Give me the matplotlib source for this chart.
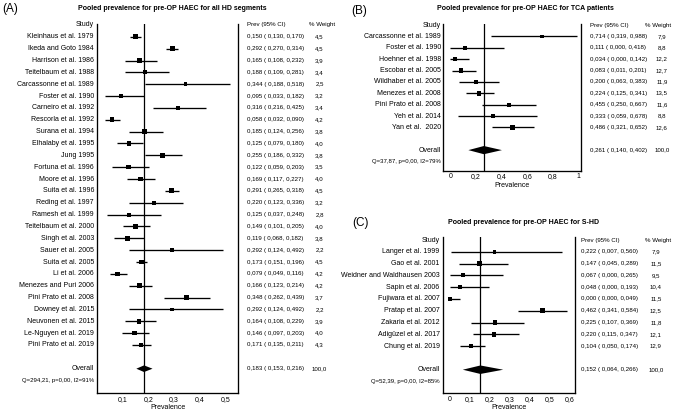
import matplotlib

matplotlib.use("Agg")
import matplotlib.pyplot as plt  # noqa: E402
from matplotlib.patches import Polygon  # noqa: E402
from matplotlib.transforms import blended_transform_factory  # noqa: E402

plt.rcParams["font.family"] = ["Liberation Sans", "DejaVu Sans"]

W, H = 676, 416

# --- panel A: all HD segments ---
a_studies = [
    "Kleinhaus et al. 1979", "Ikeda and Goto 1984", "Harrison et al. 1986",
    "Teitelbaum et al. 1988", "Carcassonne et al. 1989", "Foster et al. 1990",
    "Carneiro et al. 1992", "Rescorla et al. 1992", "Surana et al. 1994",
    "Elhalaby et al. 1995", "Jung 1995", "Fortuna et al. 1996", "Moore et al. 1996",
    "Suita et al. 1996", "Reding et al. 1997", "Ramesh et al. 1999",
    "Teitelbaum et al. 2000", "Singh et al. 2003", "Sauer et al. 2005",
    "Suita et al. 2005", "Li et al. 2006", "Menezes and Puri 2006",
    "Pini Prato et al. 2008", "Downey et al. 2015", "Neuvonen et al. 2015",
    "Le-Nguyen et al. 2019", "Pini Prato et al. 2019",
]
a_prev = [0.150, 0.292, 0.165, 0.188, 0.344, 0.095, 0.316, 0.058, 0.185, 0.125,
          0.255, 0.122, 0.169, 0.291, 0.220, 0.125, 0.149, 0.119, 0.292, 0.173,
          0.079, 0.166, 0.348, 0.292, 0.164, 0.146, 0.171]
a_lo = [0.130, 0.270, 0.108, 0.109, 0.188, 0.033, 0.216, 0.032, 0.124, 0.079,
        0.186, 0.059, 0.117, 0.265, 0.123, 0.037, 0.101, 0.068, 0.124, 0.151,
        0.049, 0.123, 0.262, 0.124, 0.108, 0.097, 0.135]
a_hi = [0.170, 0.314, 0.232, 0.281, 0.518, 0.182, 0.425, 0.090, 0.256, 0.180,
        0.332, 0.203, 0.227, 0.318, 0.336, 0.248, 0.205, 0.182, 0.492, 0.196,
        0.116, 0.214, 0.439, 0.492, 0.229, 0.203, 0.211]
a_weight = [4.5, 4.5, 3.9, 3.4, 2.5, 3.2, 3.4, 4.2, 3.8, 4.0, 3.8, 3.5, 4.0, 4.5,
            3.2, 2.8, 4.0, 3.8, 2.2, 4.5, 4.2, 4.2, 3.7, 2.2, 3.9, 4.0, 4.3]
a_overall = [0.183, 0.153, 0.216]
a_q = "Q=294,21, p=0,00, I2=91%"
a_ticks = [0.1, 0.2, 0.3, 0.4, 0.5]
a_ticklabels = ["0,1", "0,2", "0,3", "0,4", "0,5"]

# --- panel B: TCA patients ---
b_studies = [
    "Carcassonne et al. 1989", "Foster et al. 1990", "Hoehner et al. 1998",
    "Escobar et al. 2005", "Wildhaber et al. 2005", "Menezes et al. 2008",
    "Pini Prato et al. 2008", "Yeh et al. 2014", "Yan et al.  2020",
]
b_prev = [0.714, 0.111, 0.034, 0.083, 0.200, 0.224, 0.455, 0.333, 0.486]
b_lo = [0.319, 0.000, 0.000, 0.011, 0.063, 0.125, 0.250, 0.059, 0.321]
b_hi = [0.988, 0.418, 0.142, 0.201, 0.383, 0.341, 0.667, 0.678, 0.652]
b_weight = [7.9, 8.8, 12.2, 12.7, 11.9, 13.5, 11.6, 8.8, 12.6]
b_overall = [0.261, 0.140, 0.402]
b_q = "Q=37,87, p=0,00, I2=79%"
b_ticks = [0, 0.2, 0.4, 0.6, 0.8, 1.0]
b_ticklabels = ["0", "0,2", "0,4", "0,6", "0,8", "1"]

# --- panel C: S-HD ---
c_studies = [
    "Langer et al. 1999", "Gao et al. 2001", "Weidner and Waldhausen 2003",
    "Sapin et al. 2006", "Fujiwara et al. 2007", "Pratap et al. 2007",
    "Zakaria et al. 2012", "Adigüzel et al. 2017", "Chung et al. 2019",
]
c_prev = [0.222, 0.147, 0.067, 0.048, 0.000, 0.462, 0.225, 0.220, 0.104]
c_lo = [0.007, 0.045, 0.000, 0.000, 0.000, 0.341, 0.107, 0.115, 0.050]
c_hi = [0.560, 0.289, 0.265, 0.193, 0.049, 0.584, 0.369, 0.347, 0.174]
c_weight = [7.9, 11.5, 9.5, 10.4, 11.5, 12.5, 11.8, 12.1, 12.9]
c_overall = [0.152, 0.064, 0.266]
c_q = "Q=52,39, p=0,00, I2=85%"
c_ticks = [0, 0.1, 0.2, 0.3, 0.4, 0.5, 0.6]
c_ticklabels = ["0", "0,1", "0,2", "0,3", "0,4", "0,5", "0,6"]

FS = 5.0      # study names, ticks
FS_VAL = 4.45  # numeric columns and their headers
FS_Q = 4.3


def num(v, fmt="{:.3f}"):
    return fmt.format(v).replace(".", ",")


def forest(fig, box, xlim, ylim, studies, prev, lo, hi, weight, overall, q,
           ticks, ticklabels, label_x, val_x, wt_x, wt_head_x, ms_max, dh):
    left, top, right, bottom = box  # pixels
    ax = fig.add_axes([left / W, 1 - bottom / H, (right - left) / W, (bottom - top) / H])
    ax.set_xlim(*xlim)
    ax.set_ylim(*ylim)
    rows = list(range(1, len(studies) + 1))
    r_over = len(studies) + 2

    ax.axvline(overall[0], color="black", lw=0.9)
    ax.hlines(rows, lo, hi, color="black", lw=0.95)
    wmax = max(weight)
    sizes = [(ms_max * (w / wmax) ** 0.5) ** 2 for w in weight]
    ax.scatter(prev, rows, marker="s", s=sizes, c="black", linewidths=0, zorder=3)
    p, l, h = overall
    ax.add_patch(Polygon([(l, r_over), (p, r_over - dh), (h, r_over), (p, r_over + dh)],
                         closed=True, color="black", lw=0, zorder=3))

    for s in ("left", "bottom", "right"):
        ax.spines[s].set_linewidth(0.95)
    ax.spines["top"].set_visible(False)
    ax.set_yticks([])
    ax.set_xticks(ticks)
    ax.set_xticklabels(ticklabels)
    ax.tick_params(axis="x", length=0, pad=2.0, labelsize=FS)
    ax.set_xlabel("Prevalence", fontsize=FS, labelpad=1)

    tr = blended_transform_factory(fig.transFigure, ax.transData)
    kw = dict(transform=tr, va="center")
    ax.text(label_x / W, 0, "Study", ha="right", fontsize=FS, **kw)
    ax.text(val_x / W, 0, "Prev (95% CI)", ha="left", fontsize=FS_VAL, **kw)
    ax.text(wt_head_x / W, 0, "% Weight", ha="center", fontsize=FS_VAL, **kw)
    for r, name, pv, a, b, w in zip(rows, studies, prev, lo, hi, weight):
        ax.text(label_x / W, r, name, ha="right", fontsize=FS, **kw)
        ax.text(val_x / W, r, f"{num(pv)} ( {num(a)}, {num(b)})", ha="left",
                fontsize=FS_VAL, **kw)
        ax.text(wt_x / W, r, num(w, "{:.1f}"), ha="center", fontsize=FS_VAL, **kw)
    ax.text(label_x / W, r_over, "Overall", ha="right", fontsize=FS, **kw)
    ax.text(val_x / W, r_over, f"{num(p)} ( {num(l)}, {num(h)})", ha="left",
            fontsize=FS_VAL, **kw)
    ax.text(wt_x / W, r_over, "100,0", ha="center", fontsize=FS_VAL, **kw)
    ax.text(label_x / W, r_over + 1, q, ha="right", fontsize=FS_Q, **kw)
    return ax


fig = plt.figure(figsize=(W / 100, H / 100), dpi=100)

forest(fig, (97, 24, 238.4, 393), (0, 0.55), (31.05, -0.08),
       a_studies, a_prev, a_lo, a_hi, a_weight, a_overall, a_q,
       a_ticks, a_ticklabels, 94, 247, 319.5, 322, 3.5, 0.28)
forest(fig, (442.8, 24, 581, 170.7), (-0.06, 1.02), (12.81, -0.09),
       b_studies, b_prev, b_lo, b_hi, b_weight, b_overall, b_q,
       b_ticks, b_ticklabels, 441, 590, 662, 658, 3.3, 0.36)
forest(fig, (443, 236.7, 574.5, 393.3), (-0.035, 0.6225), (13.0, -0.28),
       c_studies, c_prev, c_lo, c_hi, c_weight, c_overall, c_q,
       c_ticks, c_ticklabels, 439.5, 581, 656, 658, 3.3, 0.36)

titles = [
    (172, 9, "Pooled prevalence for pre-OP HAEC for all HD segments"),
    (525, 9, "Pooled prevalence for pre-OP HAEC for TCA patients"),
    (523, 223, "Pooled prevalence for pre-OP HAEC for S-HD"),
]
for cx, cy, t in titles:
    fig.text(cx / W, 1 - cy / H, t, ha="center", va="center", fontsize=5.0, fontweight="bold")

for x, y, lab in [(2, 9, "(A)"), (351, 11, "(B)"), (352, 223, "(C)")]:
    fig.text(x / W, 1 - y / H, lab, ha="left", va="center", fontsize=8.5)

fig.savefig("out.png", dpi=100)
